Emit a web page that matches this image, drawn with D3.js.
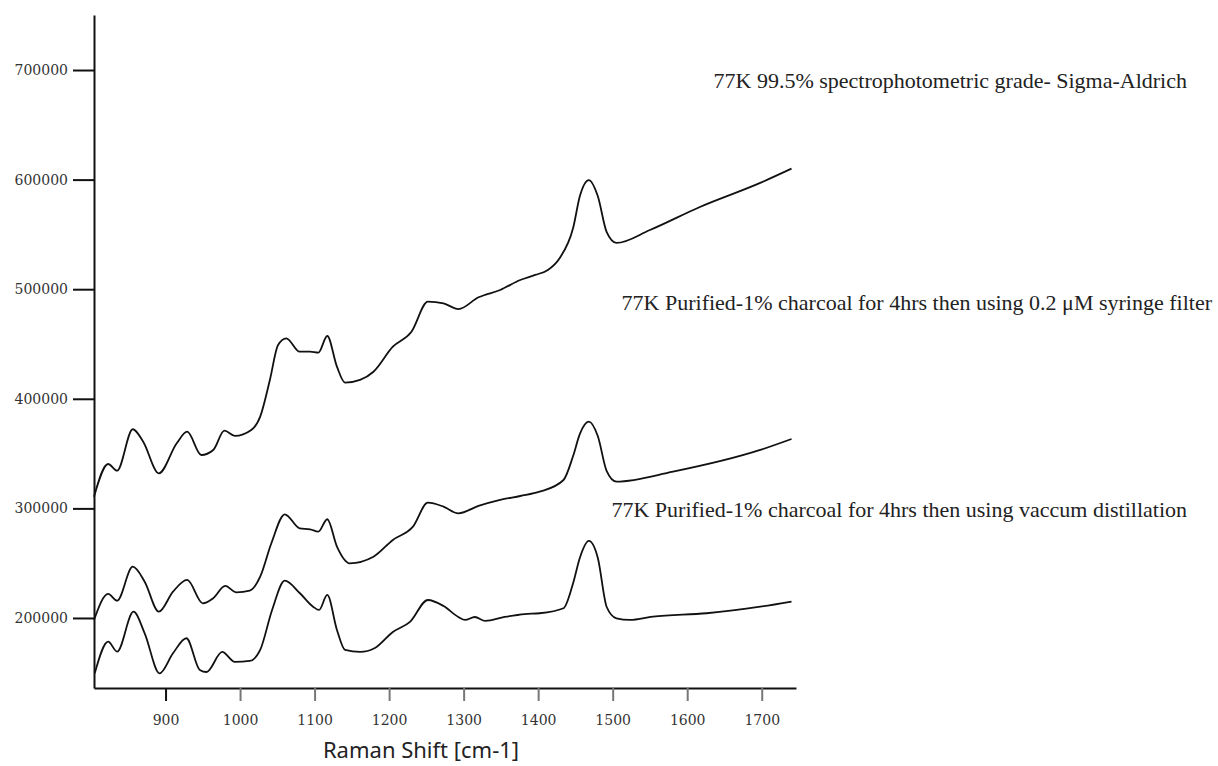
<!DOCTYPE html>
<html>
<head>
<meta charset="utf-8">
<script src="https://cdn.jsdelivr.net/npm/d3@7"></script>
<style>
  body { margin: 0; background: #fff; }
  svg { display: block; }
</style>
</head>
<body>
<figure id="raman" style="margin:0"></figure>
<script>
// Raman shift (cm-1) and intensity
const shiftTop = [804, 823, 835, 856, 870, 891, 915, 929, 948, 964, 979, 993, 1015, 1027, 1040, 1051, 1062, 1080, 1094, 1105,
  1117, 1130, 1141, 1161, 1179, 1205, 1230, 1252, 1273, 1293, 1320, 1349, 1376, 1396, 1413, 1429, 1447, 1456, 1468, 1480,
  1492, 1505, 1550, 1617, 1698, 1740];
const intensityTop = [310700, 340500, 334400, 372200, 360900, 332000, 359400, 370000, 348700, 353300, 370900, 366100, 371500, 383700, 417200, 449100, 455200, 443000, 443000, 442100,
  457300, 429300, 414700, 417200, 424700, 447500, 461200, 488600, 487100, 481900, 492600, 499300, 508400, 513000, 517500, 528500, 556000, 585000, 599600, 585000,
  552000, 542200, 554000, 575000, 597000, 610000];

const shiftMid = [804, 823, 835, 856, 872, 891, 910, 929, 950, 964, 980, 995, 1013, 1027, 1042, 1060, 1080, 1094, 1105, 1117,
  1130, 1147, 1179, 1205, 1232, 1252, 1273, 1293, 1320, 1349, 1376, 1402, 1434, 1447, 1456, 1468, 1480, 1492, 1505, 1581,
  1698, 1740];
const intensityMid = [198200, 221900, 215800, 246800, 233100, 205700, 224000, 234700, 213400, 218000, 229200, 223400, 224900, 237700, 268200, 294600, 281800, 280900, 278700, 290100,
  265100, 249900, 255900, 271200, 283300, 305200, 301600, 295500, 302200, 307700, 311300, 315200, 325900, 348000, 368000, 379100, 366000, 334000, 324400, 333500,
  353300, 363300];

const shiftLow = [805, 823, 835, 857, 872, 892, 910, 928, 946, 955, 976, 993, 1013, 1027, 1043, 1060, 1080, 1098, 1106, 1117,
  1130, 1141, 1161, 1181, 1205, 1228, 1252, 1273, 1293, 1302, 1315, 1329, 1355, 1382, 1402, 1434, 1447, 1456, 1468, 1480,
  1492, 1505, 1523, 1554, 1626, 1698, 1740];
const intensityLow = [149500, 178400, 169300, 205700, 186000, 149500, 167800, 181500, 152600, 150700, 169000, 159900, 160800, 170800, 207300, 234000, 222800, 210300, 207300, 221000,
  189100, 170800, 169000, 172600, 187200, 196400, 216400, 210900, 200900, 198200, 200900, 197300, 200900, 203600, 204300, 208900, 232000, 255000, 270300, 255000,
  210000, 199700, 198200, 201200, 204300, 210300, 215000];

const seriesLabels = [
  "77K 99.5% spectrophotometric grade- Sigma-Aldrich",
  "77K Purified-1% charcoal for 4hrs then using 0.2 \u03BCM syringe filter",
  "77K Purified-1% charcoal for 4hrs then using vaccum distillation"
];
const xTicks = [900, 1000, 1100, 1200, 1300, 1400, 1500, 1600, 1700];
const yTicks = [200000, 300000, 400000, 500000, 600000, 700000];
const xTitle = "Raman Shift [cm-1]";

const width = 1218;
const height = 766;
const margin = { top: 15, right: 422, bottom: 78, left: 94 };

const svg = d3.select("figure#raman")
  .append("svg")
  .attr("width", width)
  .attr("height", height);

// Scales
const x = d3.scaleLinear()
  .domain([804, 1746])
  .range([margin.left, width - margin.right]);

const y = d3.scaleLinear()
  .domain([136100, 750200])
  .range([height - margin.bottom, margin.top]);

// Draw the X-axis
const xAxis = svg.append("g")
  .attr("transform", "translate(0," + (height - margin.bottom) + ")")
  .call(d3.axisBottom(x).tickValues(xTicks).tickSize(13).tickSizeOuter(0).tickPadding(14).tickFormat(d3.format("d")));
xAxis.select(".domain").attr("stroke", "#111").attr("stroke-width", 2);
xAxis.selectAll(".tick line")
  .attr("stroke", d => d === 900 ? "#111" : "#777")
  .attr("stroke-width", 2);
xAxis.selectAll(".tick text")
  .attr("fill", "#333")
  .style("font-family", "DejaVu Serif")
  .style("font-size", "14px");

// Draw the Y-axis
const yAxis = svg.append("g")
  .attr("transform", "translate(" + margin.left + ",0)")
  .call(d3.axisLeft(y).tickValues(yTicks).tickSize(21).tickSizeOuter(0).tickPadding(5).tickFormat(d3.format("d")));
yAxis.select(".domain").attr("stroke", "#111").attr("stroke-width", 2);
yAxis.selectAll(".tick line").attr("stroke", "#111").attr("stroke-width", 2);
yAxis.selectAll(".tick text")
  .attr("fill", "#333")
  .style("font-family", "DejaVu Serif")
  .style("font-size", "14px");

// Spectra
const spectra = [
  d3.zip(shiftTop, intensityTop),
  d3.zip(shiftMid, intensityMid),
  d3.zip(shiftLow, intensityLow)
];

const line = d3.line()
  .x(d => x(d[0]))
  .y(d => y(d[1]))
  .curve(d3.curveMonotoneX);

svg.selectAll("path.spectrum")
  .data(spectra)
  .enter()
  .append("path")
  .attr("class", "spectrum")
  .attr("d", line)
  .attr("fill", "none")
  .attr("stroke", "#111")
  .attr("stroke-width", 1.8)
  .attr("stroke-linejoin", "round");

// Series labels, right aligned
const labelPos = [[1187, 88], [1212, 310], [1187, 517]];
svg.selectAll("text.series")
  .data(seriesLabels)
  .enter()
  .append("text")
  .attr("class", "series")
  .attr("x", (d, i) => labelPos[i][0])
  .attr("y", (d, i) => labelPos[i][1])
  .attr("text-anchor", "end")
  .style("font-family", "Liberation Serif")
  .style("font-size", "22px")
  .attr("fill", "#222")
  .text(d => d);

// Axis title
svg.append("text")
  .attr("x", 421)
  .attr("y", 758)
  .attr("text-anchor", "middle")
  .style("font-family", "Noto Sans")
  .style("font-size", "22px")
  .attr("fill", "#222")
  .text(xTitle);
</script>
</body>
</html>
